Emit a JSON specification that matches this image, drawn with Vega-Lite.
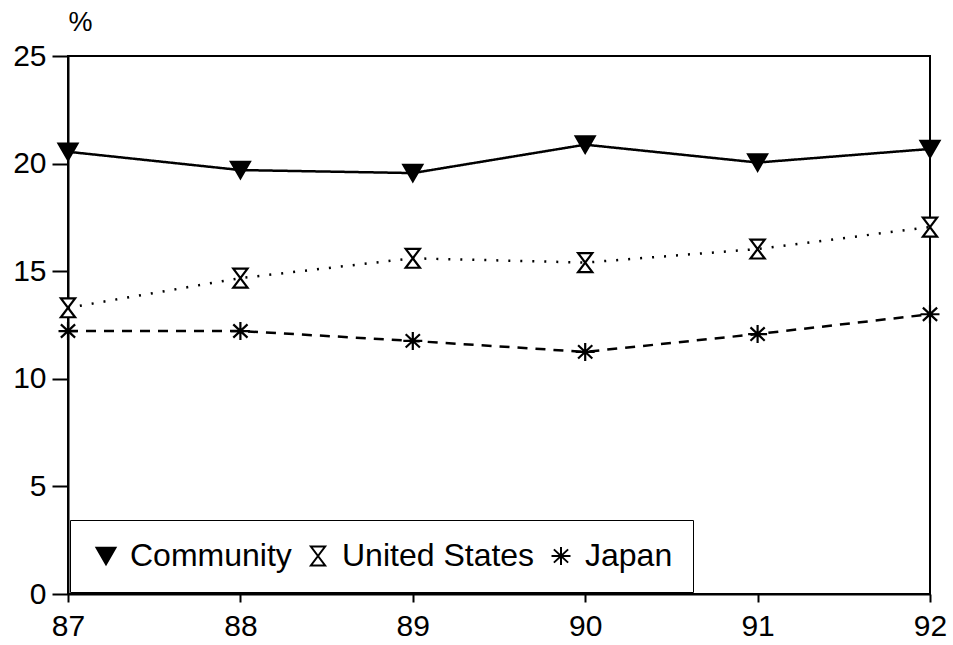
{
  "$schema": "https://vega.github.io/schema/vega-lite/v6.json",
  "width": 862,
  "height": 538,
  "autosize": {"type": "none"},
  "padding": {"left": 68, "top": 56, "right": 23, "bottom": 51},
  "background": "white",
  "config": {
    "font": "Liberation Sans",
    "view": {"stroke": "black", "strokeWidth": 2},
    "axis": {"domainColor": "black", "domainWidth": 2, "tickColor": "black", "tickWidth": 2, "labelColor": "black", "labelFont": "Liberation Sans", "grid": false},
    "legend": {"strokeColor": "black", "fillColor": "white", "padding": 20, "labelFontSize": 32, "labelLimit": 400, "labelColor": "black", "labelFont": "Liberation Sans", "labelOffset": 8, "columnPadding": 10, "gridAlign": "each", "symbolSize": 360, "symbolStrokeWidth": 2}
  },
  "data": {
    "values": [
      {"year": 87, "series": "Community", "value": 20.55},
      {"year": 88, "series": "Community", "value": 19.7},
      {"year": 89, "series": "Community", "value": 19.56},
      {"year": 90, "series": "Community", "value": 20.88},
      {"year": 91, "series": "Community", "value": 20.05},
      {"year": 92, "series": "Community", "value": 20.68},
      {"year": 87, "series": "United States", "value": 13.3},
      {"year": 88, "series": "United States", "value": 14.68},
      {"year": 89, "series": "United States", "value": 15.6},
      {"year": 90, "series": "United States", "value": 15.4},
      {"year": 91, "series": "United States", "value": 16.03},
      {"year": 92, "series": "United States", "value": 17.05},
      {"year": 87, "series": "Japan", "value": 12.22},
      {"year": 88, "series": "Japan", "value": 12.22},
      {"year": 89, "series": "Japan", "value": 11.76},
      {"year": 90, "series": "Japan", "value": 11.25},
      {"year": 91, "series": "Japan", "value": 12.08},
      {"year": 92, "series": "Japan", "value": 13.0}
    ]
  },
  "encoding": {
    "x": {
      "field": "year", "type": "quantitative",
      "scale": {"domain": [87, 92], "nice": false, "zero": false},
      "axis": {"title": null, "values": [87, 88, 89, 90, 91, 92], "format": "d", "labelFontSize": 30, "tickSize": 8, "labelPadding": 9, "labelFlush": false}
    },
    "y": {
      "field": "value", "type": "quantitative",
      "scale": {"domain": [0, 25], "nice": false},
      "axis": {"title": "%", "titleAngle": 0, "titleX": 12, "titleY": -34, "titleAlign": "center", "titleBaseline": "middle", "titleFontSize": 27, "titleFontWeight": "normal", "titleColor": "black", "values": [0, 5, 10, 15, 20, 25], "labelFontSize": 30, "tickSize": 16, "labelPadding": 6}
    }
  },
  "layer": [
    {
      "mark": {"type": "line", "color": "black", "strokeWidth": 2.5, "clip": false},
      "encoding": {
        "detail": {"field": "series"},
        "strokeDash": {
          "field": "series", "type": "nominal",
          "scale": {"domain": ["Community", "United States", "Japan"], "range": [[1, 0], [2, 10], [10, 8]]},
          "legend": null
        }
      }
    },
    {
      "mark": {"type": "point", "size": 360, "strokeWidth": 2.2, "opacity": 1, "clip": false},
      "encoding": {
        "shape": {
          "field": "series", "type": "nominal",
          "scale": {"domain": ["Community", "United States", "Japan"], "range": ["triangle-down", "M-0.75,-1L0.75,-1L-0.75,1L0.75,1Z", "M0,-0.95L0,0.95M-1,0L1,0M-0.75,-0.7L0.75,0.7M-0.75,0.7L0.75,-0.7"]},
          "legend": {"title": null, "orient": "bottom-left", "offset": 2, "direction": "horizontal"}
        },
        "fill": {
          "field": "series", "type": "nominal",
          "scale": {"domain": ["Community", "United States", "Japan"], "range": ["black", "white", "black"]},
          "legend": {"title": null, "orient": "bottom-left", "offset": 2, "direction": "horizontal"}
        },
        "stroke": {
          "field": "series", "type": "nominal",
          "scale": {"domain": ["Community", "United States", "Japan"], "range": ["black", "black", "black"]},
          "legend": {"title": null, "orient": "bottom-left", "offset": 2, "direction": "horizontal"}
        }
      }
    }
  ],
  "resolve": {"legend": {"strokeDash": "independent"}}
}
